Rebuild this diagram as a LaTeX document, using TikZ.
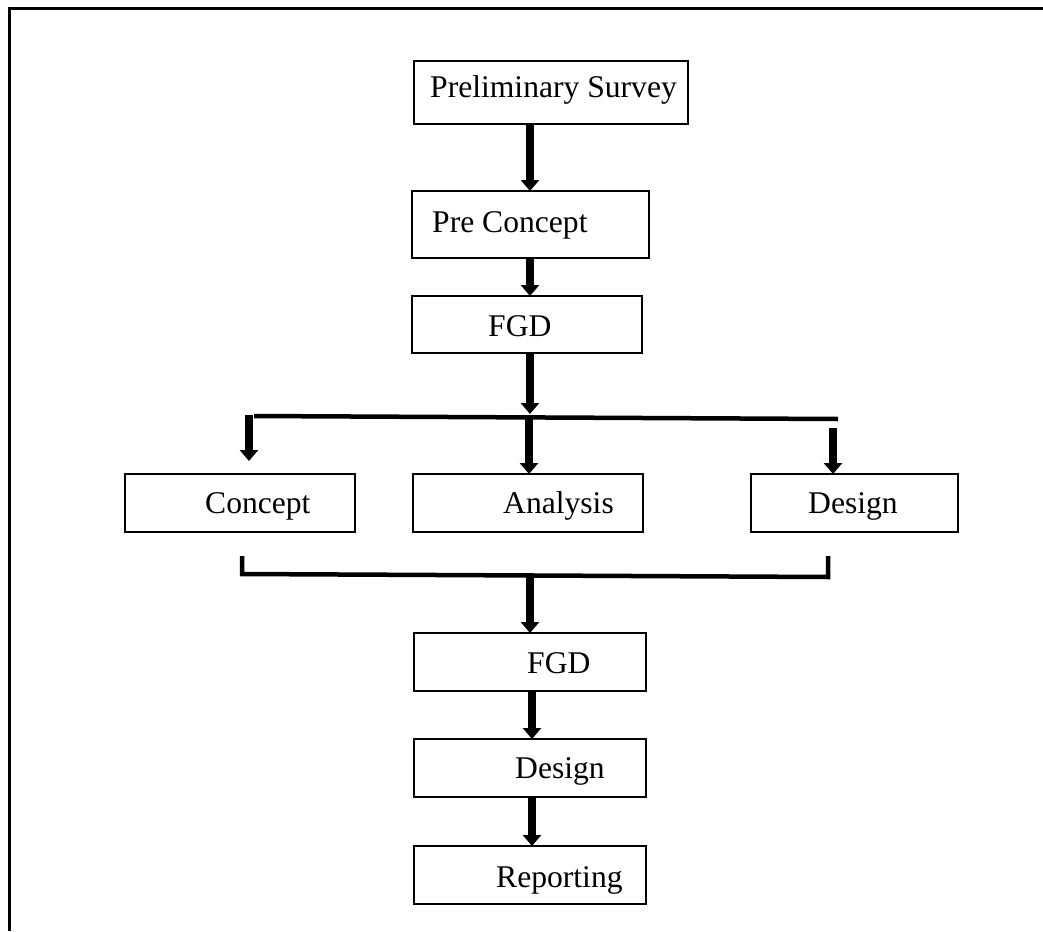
\documentclass[tikz,border=0pt]{standalone}
\usepackage{fontspec}
\setmainfont{Liberation Serif}
\usetikzlibrary{arrows.meta}
\begin{document}
\begin{tikzpicture}[x=1pt,y=-1pt,
 box/.style={draw,line width=1.6pt,inner sep=0pt,outer sep=0pt,anchor=north west},
 lbl/.style={anchor=base west,inner sep=0pt,font=\fontsize{31.6}{36}\selectfont},
 arr/.style={line width=8pt,-{Triangle[width=18pt,length=11pt]}},
 bus/.style={line width=4.5pt},
]
\useasboundingbox (0,0) rectangle (1043,931);
\draw[line width=3pt] (9,931) -- (9,9) -- (1043,9);
% boxes
\node[box,minimum width=274pt,minimum height=63pt] (ps) at (414,61) {};
\node[box,minimum width=237pt,minimum height=67pt] (pc) at (412,191) {};
\node[box,minimum width=230pt,minimum height=57pt] (fgd) at (412,296) {};
\node[box,minimum width=230pt,minimum height=58pt] (co) at (125,474) {};
\node[box,minimum width=230pt,minimum height=58pt] (an) at (413,474) {};
\node[box,minimum width=207pt,minimum height=58pt] (de) at (751,474) {};
\node[box,minimum width=232pt,minimum height=58pt] (fgdb) at (414,633) {};
\node[box,minimum width=232pt,minimum height=58pt] (deb) at (414,739) {};
\node[box,minimum width=232pt,minimum height=58pt] (rep) at (414,846) {};
% labels
\node[lbl] (tps) at (430,98) {Preliminary Survey};
\node[lbl] (tpc) at (432,232) {Pre Concept};
\node[lbl] (tfgd) at (488,336) {FGD};
\node[lbl] (tco) at (205,513) {Concept};
\node[lbl] (tan) at (503,513) {Analysis};
\node[lbl] (tde) at (808,513) {Design};
\node[lbl] (tfgdb) at (527,673) {FGD};
\node[lbl] (tdeb) at (515,778) {Design};
\node[lbl] (trep) at (496,887) {Reporting};
% coordinates
\coordinate (busL) at (254,416);
\coordinate (busR) at (838,419);
\coordinate (busT) at (530,414);
\coordinate (laS) at (249,415);
\coordinate (laE) at (249,461);
\coordinate (maS) at (529,419);
\coordinate (raS) at (833,428);
\coordinate (brL) at (242,556);
\coordinate (brLc) at (242,574);
\coordinate (brRc) at (828,577);
\coordinate (brR) at (828,556);
\coordinate (brM) at (530,575);
% connectors
\draw[arr] (530,0 |- ps.south) -- (530,0 |- pc.north);
\draw[arr] (530,0 |- pc.south) -- (530,0 |- fgd.north);
\draw[arr] (530,0 |- fgd.south) -- (busT);
\draw[bus] (busL) -- (busR);
\draw[arr] (laS) -- (laE);
\draw[arr] (maS) -- (maS |- an.north);
\draw[arr] (raS) -- (raS |- de.north);
\draw[bus] (brL) -- (brLc) -- (brRc) -- (brR);
\draw[arr] (brM) -- (brM |- fgdb.north);
\draw[arr] (532,0 |- fgdb.south) -- (532,0 |- deb.north);
\draw[arr] (532,0 |- deb.south) -- (532,0 |- rep.north);
\end{tikzpicture}
\end{document}
